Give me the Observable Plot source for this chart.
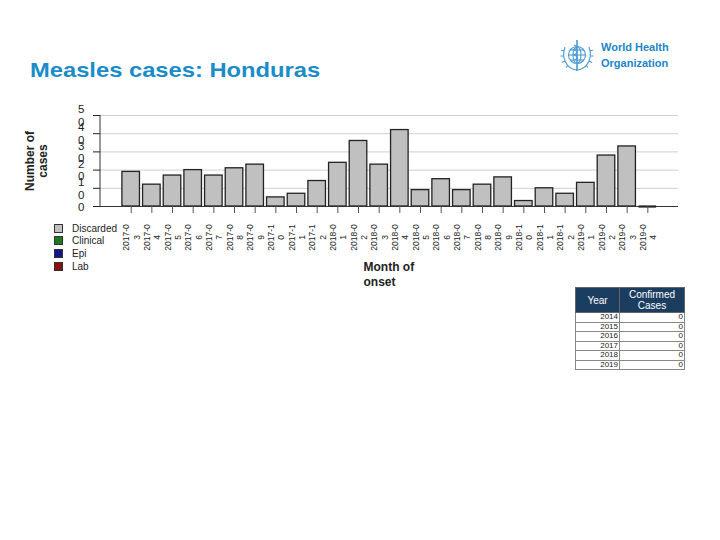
<!DOCTYPE html>
<html>
<head>
<meta charset="utf-8">
<script src="https://cdn.jsdelivr.net/npm/d3@7"></script>
<script src="https://cdn.jsdelivr.net/npm/@observablehq/plot@0.6"></script>
<style>
  html, body { margin: 0; padding: 0; background: #fff; }
  body { width: 720px; height: 540px; position: relative; overflow: hidden; font-family: "Liberation Sans", Arial, sans-serif; }
  #chart { position: absolute; left: 0; top: 0; }
  .abs { position: absolute; z-index: 2; }
  #title { left: 30px; top: 58px; font-size: 21px; font-weight: bold; color: #1a8cc8; white-space: nowrap; transform: scaleX(1.13); transform-origin: left top; }
  #legend { left: 54px; top: 222px; font-size: 10px; color: #222; }
  #legend .row { height: 12.6px; display: flex; align-items: center; }
  #legend .sw { width: 7px; height: 7px; border: 1px solid #333; margin-right: 9px; box-sizing: content-box; }
  #tbl { left: 575px; top: 287px; border-collapse: collapse; font-size: 8px; color: #222; }
  #tbl th { background: #1b3d60; color: #fff; font-weight: normal; font-size: 10px; line-height: 11px; height: 24px; padding: 0; border: 1px solid #666; }
  #tbl td { text-align: right; height: 8.5px; line-height: 8.5px; padding: 0 1px 0 0; border: 1px solid #888; }
  #logo { left: 558px; top: 37px; }
  #logotext { left: 601px; top: 40px; font-size: 11px; line-height: 15.5px; color: #1c86c8; font-weight: 600; }
</style>
</head>
<body>
<div id="chart"></div>
<div id="title" class="abs">Measles cases: Honduras</div>
<div id="legend" class="abs"></div>
<table id="tbl" class="abs"></table>
<svg id="logo" class="abs" width="38" height="38" viewBox="0 0 38 38">
  <g fill="none" stroke="#4a9ad6" stroke-width="1.1">
    <circle cx="19" cy="18" r="8.5"/>
    <ellipse cx="19" cy="18" rx="4" ry="8.5"/>
    <line x1="10.5" y1="18" x2="27.5" y2="18"/>
    <line x1="12" y1="13" x2="26" y2="13"/>
    <line x1="12" y1="23" x2="26" y2="23"/>
    <path d="M7 10 Q3 20 10 29 Q15 33 19 33"/>
    <path d="M31 10 Q35 20 28 29 Q23 33 19 33"/>
    <path d="M6 14 l-3 -1 M5.5 19 l-3 0 M7 24 l-3 1.5 M10 28 l-2 2.5 M32 14 l3 -1 M32.5 19 l3 0 M31 24 l3 1.5 M28 28 l2 2.5"/>
  </g>
  <line x1="19" y1="3" x2="19" y2="34" stroke="#4a9ad6" stroke-width="1.6"/>
  <path d="M16 8 Q22 10 16 13 Q22 15 16 18 Q22 20 17 23" fill="none" stroke="#4a9ad6" stroke-width="1.2"/>
</svg>
<div id="logotext" class="abs">World Health<br>Organization</div>
<script>
// ---- data ----
const months = ["2017-03","2017-04","2017-05","2017-06","2017-07","2017-08","2017-09","2017-10","2017-11","2017-12",
                "2018-01","2018-02","2018-03","2018-04","2018-05","2018-06","2018-07","2018-08","2018-09","2018-10","2018-11","2018-12",
                "2019-01","2019-02","2019-03","2019-04"];
const discarded = [19,12,17,20,17,21,23,5,7,14, 24,36,23,42,9,15,9,12,16,3,10,7, 13,28,33,0];
const clinical  = [0,0,0,0,0,0,0,0,0,0, 0,0,0,0,0,0,0,0,0,0,0,0, 0,0,0,0];
const epi       = [0,0,0,0,0,0,0,0,0,0, 0,0,0,0,0,0,0,0,0,0,0,0, 0,0,0,0];
const lab       = [0,0,0,0,0,0,0,0,0,0, 0,0,0,0,0,0,0,0,0,0,0,0, 0,0,0,0];
const seriesNames = ["Discarded","Clinical","Epi","Lab"];
const seriesColors = ["#c0c0c0","#1f7a1f","#14148a","#8a1010"];
const yTicks = [0,10,20,30,40,50];
const tableYears = ["2014","2015","2016","2017","2018","2019"];
const tableConfirmed = [0,0,0,0,0,0];

// ---- build long table ----
const seriesValues = [discarded, clinical, epi, lab];
const rows = [];
months.forEach((m, i) => {
  seriesNames.forEach((s, k) => {
    const v = seriesValues[k][i];
    if (v > 0 || s === "Discarded") rows.push({month: m, type: s, value: v});
  });
});
const totals = months.map((m, i) => ({month: m, total: seriesValues.reduce((a, arr) => a + arr[i], 0)}));

const frameLeft = (index, scales, values, dims) => {
  const x = dims.marginLeft;
  return d3.create("svg:line")
    .attr("x1", x).attr("x2", x)
    .attr("y1", dims.marginTop).attr("y2", dims.height - dims.marginBottom)
    .attr("stroke", "#333").attr("stroke-width", 1)
    .node();
};

const chart = Plot.plot({
  width: 720,
  height: 540,
  marginLeft: 100,
  marginRight: 42,
  marginTop: 115,
  marginBottom: 334,
  style: {fontFamily: "'Liberation Sans', Arial, sans-serif", background: "transparent"},
  x: {type: "band", domain: months, paddingInner: 0.15, paddingOuter: 1.06, align: 0.5, round: false},
  y: {domain: [0, 50]},
  color: {domain: seriesNames, range: seriesColors},
  marks: [
    Plot.gridY(yTicks, {stroke: "#cfcfcf", strokeOpacity: 1, strokeWidth: 1}),
    Plot.barY(rows, Plot.stackY({x: "month", y: "value", fill: "type", stroke: "#222", strokeWidth: 1.3})),
    Plot.ruleY([0], {stroke: "#333", strokeWidth: 1}),
    Plot.tickY(totals.filter(d => d.total === 0), {x: "month", y: "total", stroke: "#222", strokeWidth: 2.2}),
    frameLeft,
    Plot.axisY({ticks: yTicks, tickSize: 7, tickPadding: 9, label: null, fontSize: 11.5, lineHeight: 1.1,
                color: "#222",
                tickFormat: d => d === 0 ? "0" : String(d).split("").join("\n")}),
    Plot.axisX({tickSize: 7, label: null, tickFormat: () => "", color: "#555"}),
    Plot.text(months, {x: d => d, frameAnchor: "bottom", dy: 31, rotate: -90,
                       text: d => d.slice(0, 6) + "\n" + d.slice(6),
                       textAnchor: "middle", lineAnchor: "middle", lineHeight: 1.2, fontSize: 8.5, fill: "#222"}),
    Plot.text(["Number of\ncases"], {frameAnchor: "left", dx: -64, rotate: -90, fontWeight: "bold",
                       fontSize: 12, lineHeight: 1.1, textAnchor: "middle", lineAnchor: "middle", fill: "#222"}),
    Plot.text(["Month of\nonset"], {frameAnchor: "bottom", dx: -26, dy: 54, textAnchor: "start", lineAnchor: "top",
                       fontWeight: "bold", fontSize: 12, lineHeight: 1.25, fill: "#222"})
  ]
});
document.getElementById("chart").appendChild(chart);

// ---- legend ----
const legend = d3.select("#legend");
seriesNames.forEach((s, k) => {
  const r = legend.append("div").attr("class", "row");
  r.append("div").attr("class", "sw").style("background", seriesColors[k]);
  r.append("span").text(s);
});

// ---- table ----
const tbl = d3.select("#tbl");
const hr = tbl.append("tr");
hr.append("th").style("width", "43px").text("Year");
hr.append("th").style("width", "64px").html("Confirmed<br>Cases");
tableYears.forEach((y, i) => {
  const tr = tbl.append("tr");
  tr.append("td").text(y);
  tr.append("td").text(tableConfirmed[i]);
});
</script>
</body>
</html>
